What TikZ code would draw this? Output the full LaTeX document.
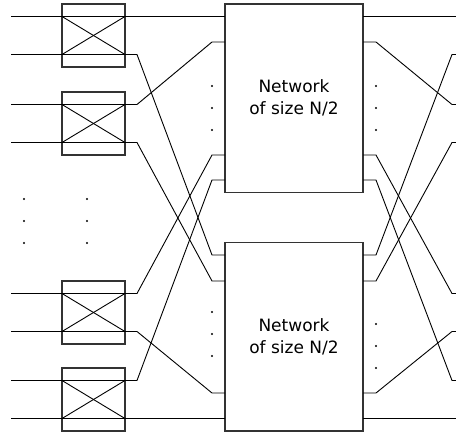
\documentclass[tikz,border=0pt]{standalone}
\usepackage{fontspec}
\setmainfont{DejaVu Sans}
\tikzset{
  switchbox/.style={draw=black!80, line width=1.3pt, minimum width=63pt, minimum height=63pt, inner sep=0pt},
  netbox/.style={draw=black!80, line width=1.3pt, minimum width=138pt, minimum height=188.5pt, inner sep=0pt, align=center, font=\fontsize{17}{22}\selectfont},
  wire/.style={line width=0.9pt},
  vdot/.style={fill, circle, inner sep=0pt, minimum size=2.2pt},
}

\begin{document}
\begin{tikzpicture}[x=1pt, y=-1pt]
    \useasboundingbox (0,0) rectangle (456,433);

    \node (sw1) at (93.5,35.5) [switchbox]{};
    \node (sw2) at (93.5,123.5) [switchbox]{};
    \node (sw3) at (93.5,312.5) [switchbox]{};
    \node (sw4) at (93.5,399.5) [switchbox]{};

    \node (nettop) at (294,98.25) [netbox]{Network\\of size N/2};
    \node (netbot) at (294,336.75) [netbox]{Network\\of size N/2};

    % inputs
    \coordinate (in0) at (11,16.5);
    \coordinate (in1) at (11,54.5);
    \coordinate (in2) at (11,104.5);
    \coordinate (in3) at (11,142.5);
    \coordinate (in4) at (11,293.5);
    \coordinate (in5) at (11,331.5);
    \coordinate (in6) at (11,380.5);
    \coordinate (in7) at (11,418.5);

    % switch sides
    \coordinate (sa0) at (62,16.5);   \coordinate (sb0) at (125,16.5);
    \coordinate (sa1) at (62,54.5);   \coordinate (sb1) at (125,54.5);
    \coordinate (sa2) at (62,104.5);  \coordinate (sb2) at (125,104.5);
    \coordinate (sa3) at (62,142.5);  \coordinate (sb3) at (125,142.5);
    \coordinate (sa4) at (62,293.5);  \coordinate (sb4) at (125,293.5);
    \coordinate (sa5) at (62,331.5);  \coordinate (sb5) at (125,331.5);
    \coordinate (sa6) at (62,380.5);  \coordinate (sb6) at (125,380.5);
    \coordinate (sa7) at (62,418.5);  \coordinate (sb7) at (125,418.5);

    \coordinate (sc1) at (137,54.5);
    \coordinate (sc2) at (137,104.5);
    \coordinate (sc3) at (137,142.5);
    \coordinate (sc4) at (137,293.5);
    \coordinate (sc5) at (137,331.5);
    \coordinate (sc6) at (137,380.5);

    % network pins, left
    \coordinate (tp0) at (225,16.5);
    \coordinate (ta1) at (212,42);    \coordinate (tp1) at (225,42);
    \coordinate (ta2) at (212,155);   \coordinate (tp2) at (225,155);
    \coordinate (ta3) at (212,180);   \coordinate (tp3) at (225,180);
    \coordinate (ba0) at (212,255);   \coordinate (bp0) at (225,255);
    \coordinate (ba1) at (212,281);   \coordinate (bp1) at (225,281);
    \coordinate (ba2) at (212,393);   \coordinate (bp2) at (225,393);
    \coordinate (bp3) at (225,418.5);

    % network pins, right
    \coordinate (tq0) at (363,16.5);
    \coordinate (tq1) at (363,42);    \coordinate (tr1) at (376,42);
    \coordinate (tq2) at (363,155);   \coordinate (tr2) at (376,155);
    \coordinate (tq3) at (363,180);   \coordinate (tr3) at (376,180);
    \coordinate (bq0) at (363,255);   \coordinate (br0) at (376,255);
    \coordinate (bq1) at (363,281);   \coordinate (br1) at (376,281);
    \coordinate (bq2) at (363,393);   \coordinate (br2) at (376,393);
    \coordinate (bq3) at (363,418.5);

    % outputs
    \coordinate (out0) at (456,16.5);
    \coordinate (oa1) at (452,54.5);   \coordinate (out1) at (456,54.5);
    \coordinate (oa2) at (452,104.5);  \coordinate (out2) at (456,104.5);
    \coordinate (oa3) at (452,142.5);  \coordinate (out3) at (456,142.5);
    \coordinate (oa4) at (452,293.5);  \coordinate (out4) at (456,293.5);
    \coordinate (oa5) at (452,331.5);  \coordinate (out5) at (456,331.5);
    \coordinate (oa6) at (452,380.5);  \coordinate (out6) at (456,380.5);
    \coordinate (out7) at (456,418.5);

     % crosses
     \draw[wire] (sa0) -- (sb1);
     \draw[wire] (sa1) -- (sb0);
     \draw[wire] (sa2) -- (sb3);
     \draw[wire] (sa3) -- (sb2);
     \draw[wire] (sa4) -- (sb5);
     \draw[wire] (sa5) -- (sb4);
     \draw[wire] (sa6) -- (sb7);
     \draw[wire] (sa7) -- (sb6);

     % left shuffle
     \draw[wire] (in0) -- (tp0);
     \draw[wire] (in1) -- (sc1) -- (ba0) -- (bp0);
     \draw[wire] (in2) -- (sc2) -- (ta1) -- (tp1);
     \draw[wire] (in3) -- (sc3) -- (ba1) -- (bp1);
     \draw[wire] (in4) -- (sc4) -- (ta2) -- (tp2);
     \draw[wire] (in5) -- (sc5) -- (ba2) -- (bp2);
     \draw[wire] (in6) -- (sc6) -- (ta3) -- (tp3);
     \draw[wire] (in7) -- (bp3);

     % right shuffle
     \draw[wire] (tq0) -- (out0);
     \draw[wire] (tq1) -- (tr1) -- (oa2) -- (out2);
     \draw[wire] (tq2) -- (tr2) -- (oa4) -- (out4);
     \draw[wire] (tq3) -- (tr3) -- (oa6) -- (out6);
     \draw[wire] (bq0) -- (br0) -- (oa1) -- (out1);
     \draw[wire] (bq1) -- (br1) -- (oa3) -- (out3);
     \draw[wire] (bq2) -- (br2) -- (oa5) -- (out5);
     \draw[wire] (bq3) -- (out7);

     % dots
     \node (dl1) at (24,199) [vdot]{};
     \node (dl2) at (24,221) [vdot]{};
     \node (dl3) at (24,243) [vdot]{};
     \node (dm1) at (87,199) [vdot]{};
     \node (dm2) at (87,221) [vdot]{};
     \node (dm3) at (87,243) [vdot]{};
     \node (dt1) at (212,86) [vdot]{};
     \node (dt2) at (212,108) [vdot]{};
     \node (dt3) at (212,130) [vdot]{};
     \node (db1) at (212,312) [vdot]{};
     \node (db2) at (212,334) [vdot]{};
     \node (db3) at (212,356) [vdot]{};
     \node (et1) at (376,86) [vdot]{};
     \node (et2) at (376,108) [vdot]{};
     \node (et3) at (376,130) [vdot]{};
     \node (eb1) at (376,324) [vdot]{};
     \node (eb2) at (376,346) [vdot]{};
     \node (eb3) at (376,368) [vdot]{};
  \end{tikzpicture}
\end{document}
